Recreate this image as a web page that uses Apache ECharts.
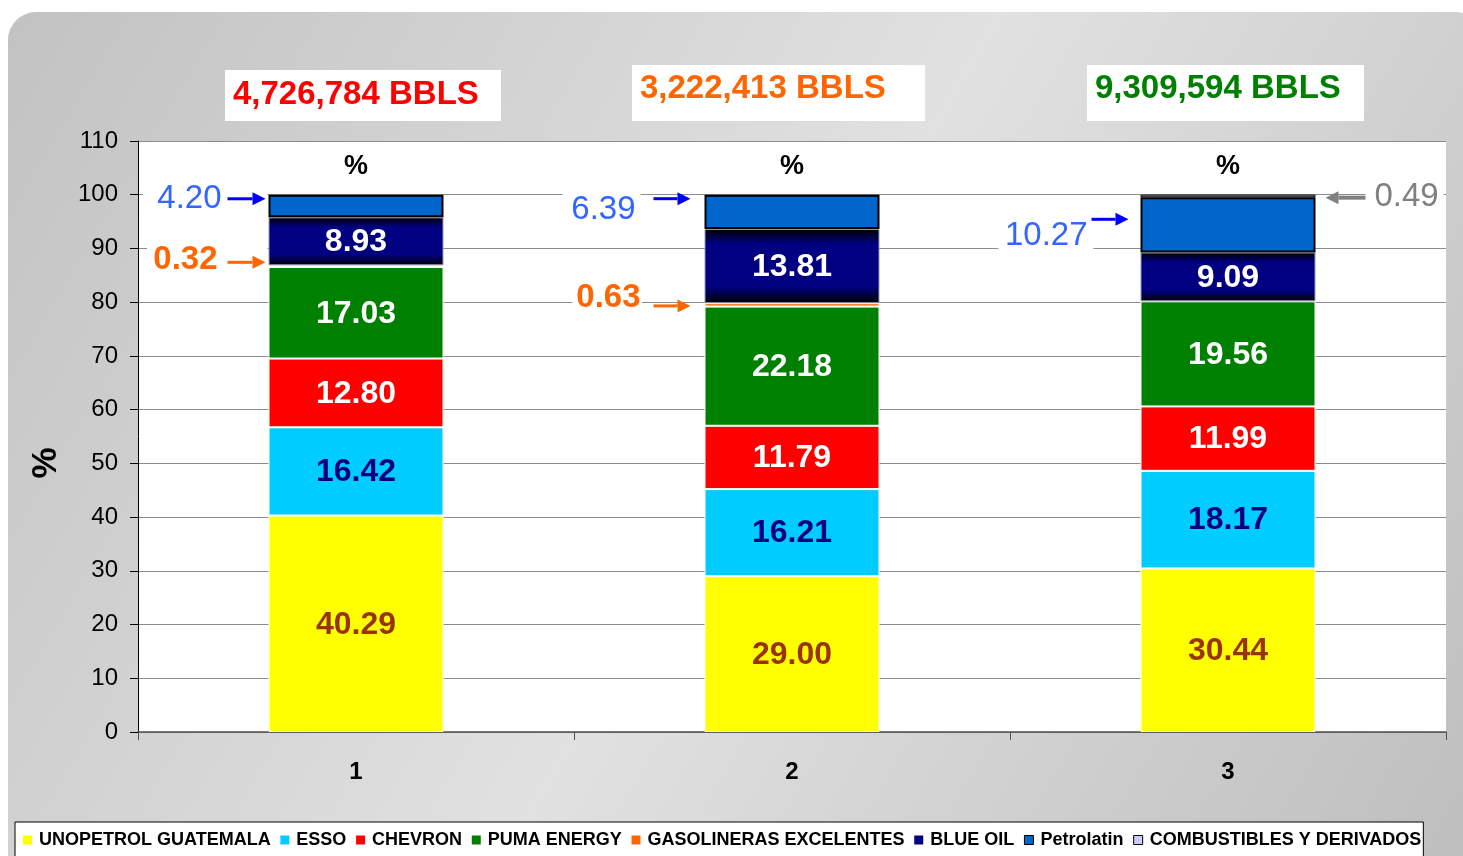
<!DOCTYPE html>
<html><head><meta charset="utf-8">
<script src="https://cdn.jsdelivr.net/npm/echarts@6/dist/echarts.min.js"></script>
<style>html,body{margin:0;padding:0;background:#fff;overflow:hidden}#c{width:1463px;height:856px}</style>
</head><body><div id="c"></div>
<script>
// ---------- DATA ----------
const categories = ['1', '2', '3'];
const seriesNames = ['UNOPETROL GUATEMALA', 'ESSO', 'CHEVRON', 'PUMA ENERGY', 'GASOLINERAS EXCELENTES', 'BLUE OIL', 'Petrolatin', 'COMBUSTIBLES Y DERIVADOS'];
const unopetrol    = [40.29, 29.00, 30.44];
const esso         = [16.42, 16.21, 18.17];
const chevron      = [12.80, 11.79, 11.99];
const puma         = [17.03, 22.18, 19.56];
const gasolineras  = [0.32, 0.63, 0];
const blueOil      = [8.93, 13.81, 9.09];
const petrolatin   = [4.20, 6.39, 10.27];
const combustibles = [0, 0, 0.49];
const totalsText   = ['4,726,784 BBLS', '3,222,413 BBLS', '9,309,594 BBLS'];
const yMin = 0, yMax = 110, yStep = 10;

// ---------- STYLE ----------
const FONT = 'Liberation Sans, Arial, sans-serif';
const values = [unopetrol, esso, chevron, puma, gasolineras, blueOil, petrolatin, combustibles];
const blueOilGrad = new echarts.graphic.LinearGradient(0, 0, 0, 1, [
  {offset: 0, color: '#000000'}, {offset: 0.2, color: '#000080'},
  {offset: 0.78, color: '#000080'}, {offset: 1, color: '#000000'}]);
const styles = [
  {color: '#FFFF00', border: '#ffffff', bw: 1, label: '#993300'},
  {color: '#00CCFF', border: '#ffffff', bw: 1, label: '#000080'},
  {color: '#FF0000', border: '#ffffff', bw: 1, label: '#ffffff'},
  {color: '#008000', border: '#ffffff', bw: 1, label: '#ffffff'},
  {color: '#FF6600', border: '#ffffff', bw: 1, label: null},
  {color: blueOilGrad, border: '#9999bb', bw: 1, label: '#ffffff'},
  {color: '#0066CC', border: '#000000', bw: 2, label: null},
  {color: '#CCCCFF', border: '#000000', bw: 1, label: null}
];
const legendColors = ['#FFFF00', '#00CCFF', '#FF0000', '#008000', '#FF6600', '#000080', '#0066CC', '#CCCCFF'];

const series = seriesNames.map((name, i) => ({
  name, type: 'bar', stack: 'total', barWidth: 175,
  data: values[i].map(v => (v === 0 ? null : v)),
  itemStyle: {color: styles[i].color, borderColor: styles[i].border, borderWidth: styles[i].bw},
  label: styles[i].label ? {
    show: true, position: 'inside', color: styles[i].label, offset: [0, 1],
    fontFamily: FONT, fontWeight: 'bold', fontSize: 32,
    formatter: p => Number(p.value).toFixed(2)
  } : {show: false}
}));

const chart = echarts.init(document.getElementById('c'), null, {renderer: 'canvas'});
chart.setOption({
  animation: false,
  grid: {left: 138, right: 17, top: 141, bottom: 124, show: true, backgroundColor: '#ffffff', borderWidth: 0},
  legend: {
    left: 15, top: 822, orient: 'horizontal', itemGap: 9.7, itemWidth: 9, itemHeight: 9,
    backgroundColor: '#ffffff', borderColor: '#000000', borderWidth: 1, borderRadius: 0,
    padding: [9, 2, 12, 8], icon: 'rect',
    textStyle: {fontFamily: FONT, fontWeight: 'bold', fontSize: 18, color: '#000', padding: [0, 0, 0, 2]},
    data: seriesNames.map((n, i) => ({
      name: n,
      itemStyle: {color: legendColors[i], borderColor: i >= 6 ? '#000' : legendColors[i], borderWidth: i >= 6 ? 1 : 0}
    }))
  },
  xAxis: {
    type: 'category', data: categories,
    axisLine: {lineStyle: {color: '#505050', width: 1.5}},
    axisTick: {show: true, alignWithLabel: false, length: 8, lineStyle: {color: '#505050'}},
    axisLabel: {fontFamily: FONT, fontWeight: 'bold', fontSize: 24, color: '#000', margin: 28}
  },
  yAxis: {
    type: 'value', min: yMin, max: yMax, interval: yStep,
    axisLine: {show: true, lineStyle: {color: '#000', width: 1}},
    axisTick: {show: true, length: 8, lineStyle: {color: '#000'}},
    axisLabel: {fontFamily: FONT, fontSize: 24, color: '#000', margin: 20},
    splitLine: {show: true, lineStyle: {color: '#8c8c8c', width: 1}}
  },
  series
});

// ---------- ANNOTATIONS (layout offsets relative to bar edges) ----------
const half = 87.5;
function segPx(ci, si) {
  let base = 0;
  for (let k = 0; k < si; k++) base += values[k][ci];
  const top = base + values[si][ci];
  const c = chart.convertToPixel({gridIndex: 0}, [categories[ci], base]);
  const t = chart.convertToPixel({gridIndex: 0}, [categories[ci], top]);
  return {xc: c[0], yB: c[1], yT: t[1], yM: (c[1] + t[1]) / 2, xL: c[0] - half, xR: c[0] + half};
}
function arrow(x0, x1, y, color, w) {
  const dir = x1 > x0 ? 1 : -1;
  const hl = 13, hh = 6.5;
  return [
    {type: 'line', z: 101, shape: {x1: x0, y1: y, x2: x1 - dir * hl, y2: y}, style: {stroke: color, lineWidth: w}},
    {type: 'polygon', z: 101, shape: {points: [[x1, y], [x1 - dir * hl, y - hh], [x1 - dir * hl, y + hh]]}, style: {fill: color}}
  ];
}
function bg(x1, x2, y1, y2) {
  return {type: 'rect', z: 90, shape: {x: x1, y: y1, width: x2 - x1, height: y2 - y1}, style: {fill: '#ffffff'}};
}
function label(text, x, y, align, color, bold) {
  return {type: 'text', z: 100, x, y, style: {
    text, fill: color, font: (bold ? 'bold ' : '') + '33px ' + FONT, align, verticalAlign: 'middle'
  }};
}

const g = [];
// background
g.push({type: 'rect', z: -100, silent: true, shape: {x: 8, y: 12, width: 1475, height: 870, r: 28},
  style: {fill: new echarts.graphic.LinearGradient(0, 0, 1, 1, [
    {offset: 0, color: '#c2c2c2'}, {offset: 0.5, color: '#e1e1e1'}, {offset: 1, color: '#bdbdbd'}])}});
// totals boxes
const boxes = [[225, 70, 276, 51, '#FF0000', 25], [632, 65, 293, 56, '#FF6600', 24], [1087, 65, 277, 56, '#008000', 24]];
boxes.forEach((b, i) => {
  g.push({type: 'rect', z: 50, shape: {x: b[0], y: b[1], width: b[2], height: b[3]}, style: {fill: '#ffffff'}});
  g.push({type: 'text', z: 51, x: b[0] + 8, y: b[1] + b[5],
    style: {text: totalsText[i], fill: b[4], font: 'bold 33px ' + FONT, verticalAlign: 'middle', align: 'left'}});
});
// "%" above bars
categories.forEach(c => {
  const p = chart.convertToPixel({gridIndex: 0}, [c, 105.2]);
  g.push({type: 'text', z: 60, x: p[0], y: p[1], style: {text: '%', fill: '#000', font: 'bold 27px ' + FONT, align: 'center', verticalAlign: 'middle'}});
});
// y axis name
g.push({type: 'text', z: 60, x: 46, y: 463, rotation: Math.PI / 2,
  style: {text: '%', fill: '#000', font: 'bold 35px ' + FONT, align: 'center', verticalAlign: 'middle'}});

const BLUE_T = '#3366FF', BLUE_A = '#0000FF', OR = '#FF6600', GR = '#808080';
// cat 1 : Petrolatin
let s = segPx(0, 6);
g.push(bg(143, s.xL - 1, s.yT - 16, s.yT + 22));
g.push(label(petrolatin[0].toFixed(2), s.xL - 47, s.yT + 4, 'right', BLUE_T, false));
g.push(...arrow(s.xL - 41, s.xL - 3, s.yT + 4, BLUE_A, 3));
// cat 1 : Gasolineras
s = segPx(0, 4);
g.push(bg(147, s.xL - 1, s.yT - 24, s.yT + 13));
g.push(label(gasolineras[0].toFixed(2), s.xL - 51, s.yT - 5, 'right', OR, true));
g.push(...arrow(s.xL - 41, s.xL - 3, s.yT - 3, OR, 3));
// cat 2 : Petrolatin
s = segPx(1, 6);
g.push(bg(s.xL - 142, s.xL - 64, s.yT - 3, s.yT + 34));
g.push(label(petrolatin[1].toFixed(2), s.xL - 69, s.yT + 15, 'right', BLUE_T, false));
g.push(...arrow(s.xL - 51, s.xL - 14, s.yT + 4, BLUE_A, 3));
// cat 2 : Gasolineras
s = segPx(1, 4);
g.push(bg(s.xL - 132, s.xL - 63, s.yM - 25, s.yM + 10));
g.push(label(gasolineras[1].toFixed(2), s.xL - 64, s.yM - 7, 'right', OR, true));
g.push(...arrow(s.xL - 51, s.xL - 14, s.yM + 1, OR, 3));
// cat 3 : Petrolatin
s = segPx(2, 6);
g.push(bg(s.xL - 142, s.xL - 47, s.yT + 20, s.yT + 58));
g.push(label(petrolatin[2].toFixed(2), s.xL - 53, s.yT + 39, 'right', BLUE_T, false));
g.push(...arrow(s.xL - 49, s.xL - 12, s.yT + 22, BLUE_A, 3));
// cat 3 : Combustibles
s = segPx(2, 7);
g.push(bg(s.xR + 50, s.xR + 128, s.yT - 18, s.yT + 20));
g.push(label(combustibles[2].toFixed(2), s.xR + 59, s.yT + 2, 'left', GR, false));
g.push(...arrow(s.xR + 50, s.xR + 10, s.yT + 3, GR, 4));

chart.setOption({graphic: {elements: g}});
</script></body></html>
